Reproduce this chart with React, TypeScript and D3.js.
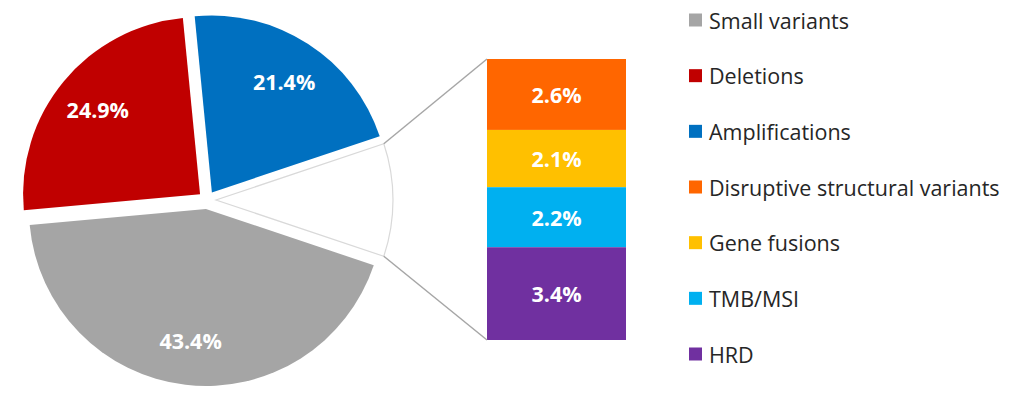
import React, { useEffect, useRef } from 'react';
import * as d3 from 'd3';

// main pie
const mainCategories = ['Small variants', 'Deletions', 'Amplifications'];
const mainValues = [43.4, 24.9, 21.4];
const mainColors = ['#a5a5a5', '#c00000', '#0070c0'];

// breakdown of the white slice
const subCategories = ['Disruptive structural variants', 'Gene fusions', 'TMB/MSI', 'HRD'];
const subValues = [2.6, 2.1, 2.2, 3.4];
const subColors = ['#ff6600', '#ffc000', '#00b0f0', '#7030a0'];

const W = 1024;
const H = 397;

function App() {
  const ref = useRef<SVGSVGElement>(null);

  useEffect(() => {
    const svg = d3.select(ref.current);
    svg.selectAll('*').remove();

    const font = '"Open Sans", "DejaVu Sans", sans-serif';
    const cx = 207, cy = 200, r = 177, explode = 9;

    const otherTotal = d3.sum(subValues);
    const pieData = [
      ...mainCategories.map((c, i) => ({ name: c, value: mainValues[i], color: mainColors[i] })),
      { name: 'Other', value: otherTotal, color: '#ffffff' },
    ];
    const total = d3.sum(pieData, d => d.value);
    const otherAngle = (2 * Math.PI * otherTotal) / total;
    const start = Math.PI / 2 + otherAngle / 2;

    const pie = d3.pie<any>()
      .sort(null)
      .value(d => d.value)
      .startAngle(start)
      .endAngle(start + 2 * Math.PI);
    const arcs = pie(pieData);

    const arc = d3.arc<any>().innerRadius(0).outerRadius(r);
    const g = svg.append('g').attr('transform', `translate(${cx},${cy})`);

    const shift = (d: any) => {
      const a = (d.startAngle + d.endAngle) / 2;
      return [explode * Math.sin(a), -explode * Math.cos(a)];
    };

    arcs.forEach(d => {
      const [dx, dy] = shift(d);
      const isOther = d.data.name === 'Other';
      g.append('path')
        .attr('d', arc(d))
        .attr('transform', `translate(${dx},${dy})`)
        .attr('fill', d.data.color)
        .attr('stroke', isOther ? '#d9d9d9' : 'none')
        .attr('stroke-width', 1.2);
      if (!isOther) {
        const a = (d.startAngle + d.endAngle) / 2;
        const lr = r * 0.75;
        g.append('text')
          .attr('x', dx + lr * Math.sin(a))
          .attr('y', dy - lr * Math.cos(a))
          .attr('text-anchor', 'middle')
          .attr('dominant-baseline', 'central')
          .attr('fill', '#fff')
          .attr('font-family', font)
          .attr('font-weight', 700)
          .attr('font-size', 21.5)
          .text(d.data.value.toFixed(1) + '%');
      }
    });

    // stacked bar
    const barX = 487, barW = 139;
    const y = d3.scaleLinear().domain([0, otherTotal]).range([59, 340]);
    let acc = 0;
    subValues.forEach((v, i) => {
      const y0 = y(acc), y1 = y(acc + v);
      svg.append('rect')
        .attr('x', barX).attr('y', y0)
        .attr('width', barW).attr('height', y1 - y0)
        .attr('fill', subColors[i]);
      svg.append('text')
        .attr('x', barX + barW / 2)
        .attr('y', (y0 + y1) / 2)
        .attr('text-anchor', 'middle')
        .attr('dominant-baseline', 'central')
        .attr('fill', '#fff')
        .attr('font-family', font)
        .attr('font-weight', 700)
        .attr('font-size', 21.5)
        .text(v.toFixed(1) + '%');
      acc += v;
    });

    // connector lines
    const other = arcs[arcs.length - 1];
    const [ox, oy] = shift(other);
    const p1 = [cx + ox + r * Math.sin(other.startAngle), cy + oy - r * Math.cos(other.startAngle)];
    const p2 = [cx + ox + r * Math.sin(other.endAngle), cy + oy - r * Math.cos(other.endAngle)];
    svg.append('line')
      .attr('x1', p1[0]).attr('y1', p1[1]).attr('x2', barX).attr('y2', y(0))
      .attr('stroke', '#a6a6a6').attr('stroke-width', 1.5);
    svg.append('line')
      .attr('x1', p2[0]).attr('y1', p2[1]).attr('x2', barX).attr('y2', y(otherTotal))
      .attr('stroke', '#a6a6a6').attr('stroke-width', 1.5);

    // legend
    const legendNames = [...mainCategories, ...subCategories];
    const legendColors = [...mainColors, ...subColors];
    const ly = d3.scalePoint<string>().domain(legendNames).range([20, 354]);
    legendNames.forEach((n, i) => {
      const yy = ly(n)!;
      svg.append('rect')
        .attr('x', 689).attr('y', yy - 6.5)
        .attr('width', 13).attr('height', 13)
        .attr('fill', legendColors[i]);
      svg.append('text')
        .attr('x', 709).attr('y', yy)
        .attr('dominant-baseline', 'central')
        .attr('fill', '#262626')
        .attr('font-family', font)
        .attr('font-size', 21.5)
        .text(n);
    });
  }, []);

  return (
    <svg
      ref={ref}
      width={W}
      height={H}
      style={{ position: 'absolute', left: 0, top: 0, background: '#fff' }}
    />
  );
}

export default App;
